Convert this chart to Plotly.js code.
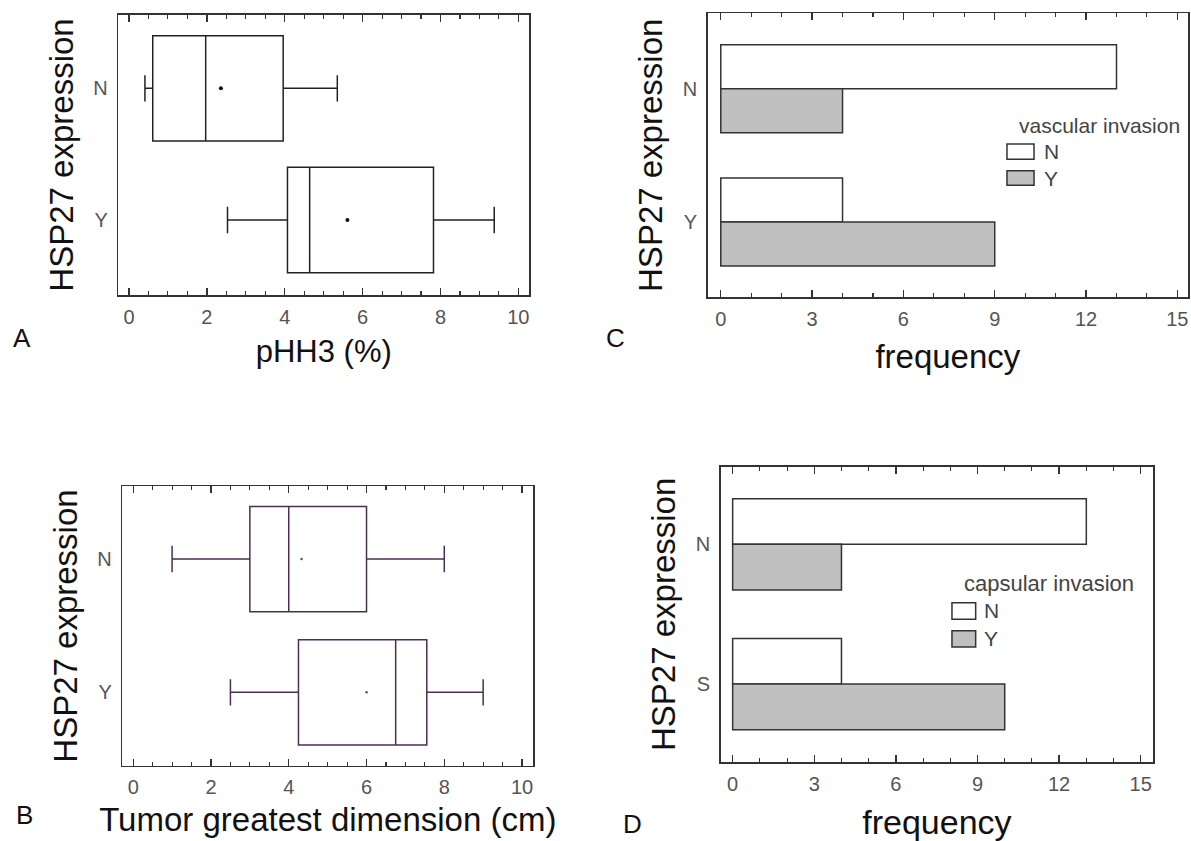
<!DOCTYPE html>
<html>
<head>
<meta charset="utf-8">
<script src="https://cdn.plot.ly/plotly-3.0.1.min.js"></script>
<style>html,body{margin:0;padding:0;background:#fff;}#chart{width:1191px;height:841px;}</style>
</head>
<body>
<div id="chart"></div>
<script>
// ---------- data ----------
const groupCats = ['N', 'Y'];            // HSP27 expression (panels A-C)
const groupCatsD = ['N', 'S'];           // HSP27 expression (panel D)

// Panel A: pHH3 (%) box statistics
const pHH3Lower  = [0.41, 2.53];
const pHH3Q1     = [0.61, 4.07];
const pHH3Median = [1.97, 4.64];
const pHH3Q3     = [3.96, 7.82];
const pHH3Upper  = [5.35, 9.38];
const pHH3Mean   = [2.36, 5.61];

// Panel B: tumor greatest dimension (cm) box statistics
const sizeLower  = [1.0, 2.5];
const sizeQ1     = [3.0, 4.25];
const sizeMedian = [4.0, 6.75];
const sizeQ3     = [6.0, 7.55];
const sizeUpper  = [8.0, 9.0];
const sizeMean   = [4.33, 6.0];

// Panel C: vascular invasion frequencies
const vascNames = ['N', 'Y'];
const vascN = [13, 4];
const vascY = [4, 9];

// Panel D: capsular invasion frequencies
const capsNames = ['N', 'Y'];
const capsN = [13, 4];
const capsY = [4, 10];

// ---------- styling helpers ----------
const FONT = 'Liberation Sans, Arial, sans-serif';
const tickFont = {family: FONT, size: 20, color: '#555'};
const titleFont = {family: FONT, size: 33, color: '#111'};

function xAxis(domain, anchor, range, dtick, minorDtick, titleText, titleSize, standoff) {
  return {
    domain: domain, anchor: anchor, range: range,
    showgrid: false, zeroline: false,
    showline: true, linecolor: '#333', linewidth: 1.5, mirror: 'allticks',
    ticks: 'inside', ticklen: 7, tickwidth: 1.3, tickcolor: '#333',
    tick0: 0, dtick: dtick,
    minor: {dtick: minorDtick, ticks: 'inside', ticklen: 4, tickwidth: 1.1, tickcolor: '#333', showgrid: false},
    tickfont: tickFont, ticklabelstandoff: 3,
    title: {text: titleText, font: {family: FONT, size: titleSize, color: '#111'}, standoff: standoff},
    automargin: false, fixedrange: true
  };
}
function yAxis(domain, anchor, range, cats) {
  return {
    domain: domain, anchor: anchor, range: range,
    type: 'category', categoryorder: 'array', categoryarray: cats,
    showgrid: false, zeroline: false,
    showline: true, linecolor: '#333', linewidth: 1.5, mirror: true,
    ticks: '', tickfont: tickFont, ticklabelstandoff: 5,
    title: {text: 'HSP27 expression', font: titleFont, standoff: 10},
    automargin: false, fixedrange: true
  };
}

const boxLineA = '#222';
const boxLineB = '#4a3050';

const traces = [
  // Panel A
  {type: 'box', orientation: 'h', xaxis: 'x', yaxis: 'y', y: groupCats,
   lowerfence: pHH3Lower, q1: pHH3Q1, median: pHH3Median, q3: pHH3Q3, upperfence: pHH3Upper,
   boxpoints: false, width: 0.8, whiskerwidth: 0.25, fillcolor: 'rgba(255,255,255,0)',
   line: {color: boxLineA, width: 1.5}, showlegend: false, hoverinfo: 'skip'},
  {type: 'scatter', mode: 'markers', xaxis: 'x', yaxis: 'y', x: pHH3Mean, y: groupCats,
   marker: {color: '#111', size: 4}, showlegend: false, hoverinfo: 'skip'},
  // Panel B
  {type: 'box', orientation: 'h', xaxis: 'x2', yaxis: 'y2', y: groupCats,
   lowerfence: sizeLower, q1: sizeQ1, median: sizeMedian, q3: sizeQ3, upperfence: sizeUpper,
   boxpoints: false, width: 0.79, whiskerwidth: 0.25, fillcolor: 'rgba(255,255,255,0)',
   line: {color: boxLineB, width: 1.5}, showlegend: false, hoverinfo: 'skip'},
  {type: 'scatter', mode: 'markers', xaxis: 'x2', yaxis: 'y2', x: sizeMean, y: groupCats,
   marker: {color: '#555', size: 2.5}, showlegend: false, hoverinfo: 'skip'},
  // Panel C
  {type: 'bar', orientation: 'h', xaxis: 'x3', yaxis: 'y3', y: groupCats, x: vascN, name: vascNames[0],
   width: 0.33, offset: -0.33, marker: {color: '#ffffff', line: {color: '#333', width: 1.5}},
   showlegend: false, hoverinfo: 'skip'},
  {type: 'bar', orientation: 'h', xaxis: 'x3', yaxis: 'y3', y: groupCats, x: vascY, name: vascNames[1],
   width: 0.33, offset: 0, marker: {color: '#c0c0c0', line: {color: '#333', width: 1.5}},
   showlegend: false, hoverinfo: 'skip'},
  // Panel D
  {type: 'bar', orientation: 'h', xaxis: 'x4', yaxis: 'y4', y: groupCatsD, x: capsN, name: capsNames[0],
   width: 0.327, offset: -0.327, marker: {color: '#ffffff', line: {color: '#333', width: 1.5}},
   showlegend: false, hoverinfo: 'skip'},
  {type: 'bar', orientation: 'h', xaxis: 'x4', yaxis: 'y4', y: groupCatsD, x: capsY, name: capsNames[1],
   width: 0.327, offset: 0, marker: {color: '#c0c0c0', line: {color: '#333', width: 1.5}},
   showlegend: false, hoverinfo: 'skip'}
];

// Legend swatches (drawn as shapes) and labels
function legend(title, names, titleX, titleY, titleSize, boxX0, boxX1, boxes, labelX, labelYs) {
  const shapes = boxes.map((b, i) => ({
    type: 'rect', xref: 'paper', yref: 'paper', x0: boxX0, x1: boxX1, y0: b[0], y1: b[1],
    fillcolor: i === 0 ? '#ffffff' : '#c0c0c0', line: {color: '#333', width: 1.5}
  }));
  const anns = [{text: title, xref: 'paper', yref: 'paper', x: titleX, y: titleY, xanchor: 'left', yanchor: 'middle',
    showarrow: false, font: {family: FONT, size: titleSize, color: '#444'}}];
  names.forEach((n, i) => anns.push({text: n, xref: 'paper', yref: 'paper', x: labelX, y: labelYs[i],
    xanchor: 'left', yanchor: 'middle', showarrow: false, font: {family: FONT, size: 21, color: '#444'}}));
  return {shapes, anns};
}
const legC = legend('vascular invasion', vascNames, 0.8535, 0.8502, 21, 0.8455, 0.8682,
  [[0.8106, 0.8288], [0.7797, 0.7970]], 0.8745, [0.8193, 0.7883]);
const legD = legend('capsular invasion', capsNames, 0.8076, 0.3056, 22, 0.7993, 0.8192,
  [[0.2636, 0.2834], [0.2307, 0.2501]], 0.8244, [0.2735, 0.2402]);

const panelLetters = [
  {text: 'A', x: 0.0185, y: 0.598, ya: 'middle'},
  {text: 'B', x: 0.0202, y: 0.0309, ya: 'middle'},
  {text: 'C', x: 0.5172, y: 0.598, ya: 'middle'},
  {text: 'D', x: 0.5307, y: 0.0, ya: 'bottom'}
].map(p => ({text: p.text, xref: 'paper', yref: 'paper', x: p.x, y: p.y, xanchor: 'center', yanchor: p.ya,
  showarrow: false, font: {family: FONT, size: 26, color: '#111'}}));

const layout = {
  width: 1191, height: 841,
  margin: {l: 0, r: 0, t: 0, b: 0},
  paper_bgcolor: '#ffffff', plot_bgcolor: '#ffffff',
  showlegend: false,
  barmode: 'group',
  xaxis:  xAxis([0.0993, 0.4444], 'y',  [-0.275, 10.28], 2, 0.5, 'pHH3 (%)', 31, 14),
  yaxis:  yAxis([0.6492, 0.9822], 'x',  [1.57, -0.557], groupCats),
  xaxis2: xAxis([0.1027, 0.4478], 'y2', [-0.28, 10.29], 2, 0.5, 'Tumor greatest dimension (cm)', 33, 10),
  yaxis2: yAxis([0.0892, 0.4221], 'x2', [1.553, -0.548], groupCats),
  xaxis3: xAxis([0.5942, 0.9975], 'y3', [-0.43, 15.35], 3, 1, 'frequency', 33, 16),
  yaxis3: yAxis([0.6465, 0.9842], 'x3', [1.565, -0.566], groupCats),
  xaxis4: xAxis([0.6051, 0.9683], 'y4', [-0.44, 15.46], 3, 1, 'frequency', 34, 16),
  yaxis4: yAxis([0.0939, 0.4451], 'x4', [1.558, -0.556], groupCatsD),
  shapes: legC.shapes.concat(legD.shapes),
  annotations: legC.anns.concat(legD.anns).concat(panelLetters)
};

Plotly.newPlot('chart', traces, layout, {staticPlot: true, displayModeBar: false});
</script>
</body>
</html>
